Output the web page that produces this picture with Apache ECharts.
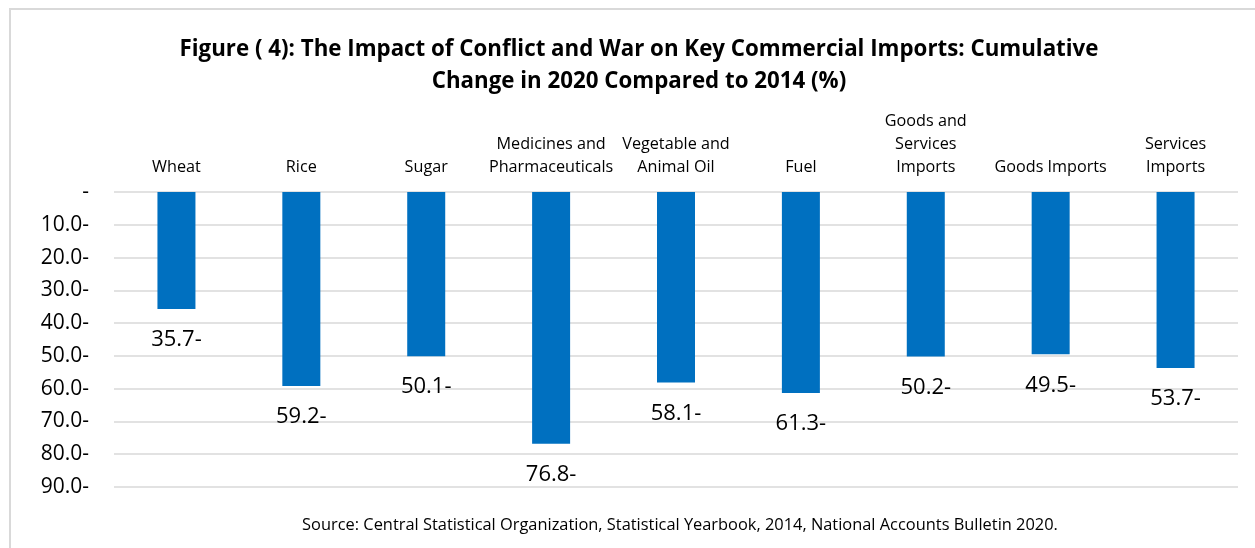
<!DOCTYPE html>
<html><head><meta charset="utf-8">
<script src="https://cdn.jsdelivr.net/npm/echarts@6/dist/echarts.min.js"></script>
<style>html,body{margin:0;padding:0;background:#fff}#c{width:1255px;height:548px}</style>
</head><body><div id="c"></div>
<script>
const titleText = 'Figure ( 4): The Impact of Conflict and War on Key Commercial Imports: Cumulative\nChange in 2020 Compared to 2014 (%)';
const sourceText = 'Source: Central Statistical Organization, Statistical Yearbook, 2014, National Accounts Bulletin 2020.';
const categories = ['Wheat', 'Rice', 'Sugar', 'Medicines and\nPharmaceuticals', 'Vegetable and\nAnimal Oil', 'Fuel', 'Goods and\nServices\nImports', 'Goods Imports', 'Services\nImports'];
const changeValues = [-35.7, -59.2, -50.1, -76.8, -58.1, -61.3, -50.2, -49.5, -53.7];
const yTicks = [0, -10, -20, -30, -40, -50, -60, -70, -80, -90];

const FONT = '"Open Sans", sans-serif';
const chart = echarts.init(document.getElementById('c'));
chart.setOption({
  animation: false,
  backgroundColor: '#fff',
  textStyle: { fontFamily: FONT },
  title: [{
    text: titleText,
    left: 634, top: 29, textAlign: 'center',
    textStyle: { fontFamily: FONT, fontWeight: 'bold', fontSize: 22.3, lineHeight: 32, color: '#000' }
  }, {
    text: sourceText,
    left: 675, top: 512, textAlign: 'center',
    textStyle: { fontFamily: FONT, fontWeight: 'normal', fontSize: 16.4, color: '#000' }
  }],
  graphic: [{
    type: 'rect', silent: true, z: -1,
    shape: { x: 10, y: 9, width: 1270, height: 570 },
    style: { fill: 'none', stroke: '#d9d9d9', lineWidth: 2 }
  }],
  grid: { left: 114, right: 17, top: 192, bottom: 61, containLabel: false },
  xAxis: {
    type: 'category', position: 'top', data: categories,
    axisLine: { show: false }, axisTick: { show: false },
    axisLabel: { color: '#000', fontSize: 16.2, lineHeight: 23, margin: 13, fontFamily: FONT, interval: 0 }
  },
  yAxis: {
    type: 'value', min: -90, max: 0, interval: 10,
    axisLine: { show: false }, axisTick: { show: false },
    splitLine: { lineStyle: { color: '#d9d9d9', width: 1.5 } },
    axisLabel: {
      color: '#000', fontSize: 21, margin: 25, fontFamily: FONT,
      formatter: v => (v === 0 ? '-' : Math.abs(v).toFixed(1) + '-')
    }
  },
  series: [{
    type: 'bar', data: changeValues, barWidth: 38,
    itemStyle: { color: '#0070C0' },
    label: {
      show: true, position: 'bottom', distance: 20, color: '#000', fontSize: 22, fontFamily: FONT,
      formatter: p => Math.abs(p.value).toFixed(1) + '-'
    }
  }]
});
</script></body></html>
